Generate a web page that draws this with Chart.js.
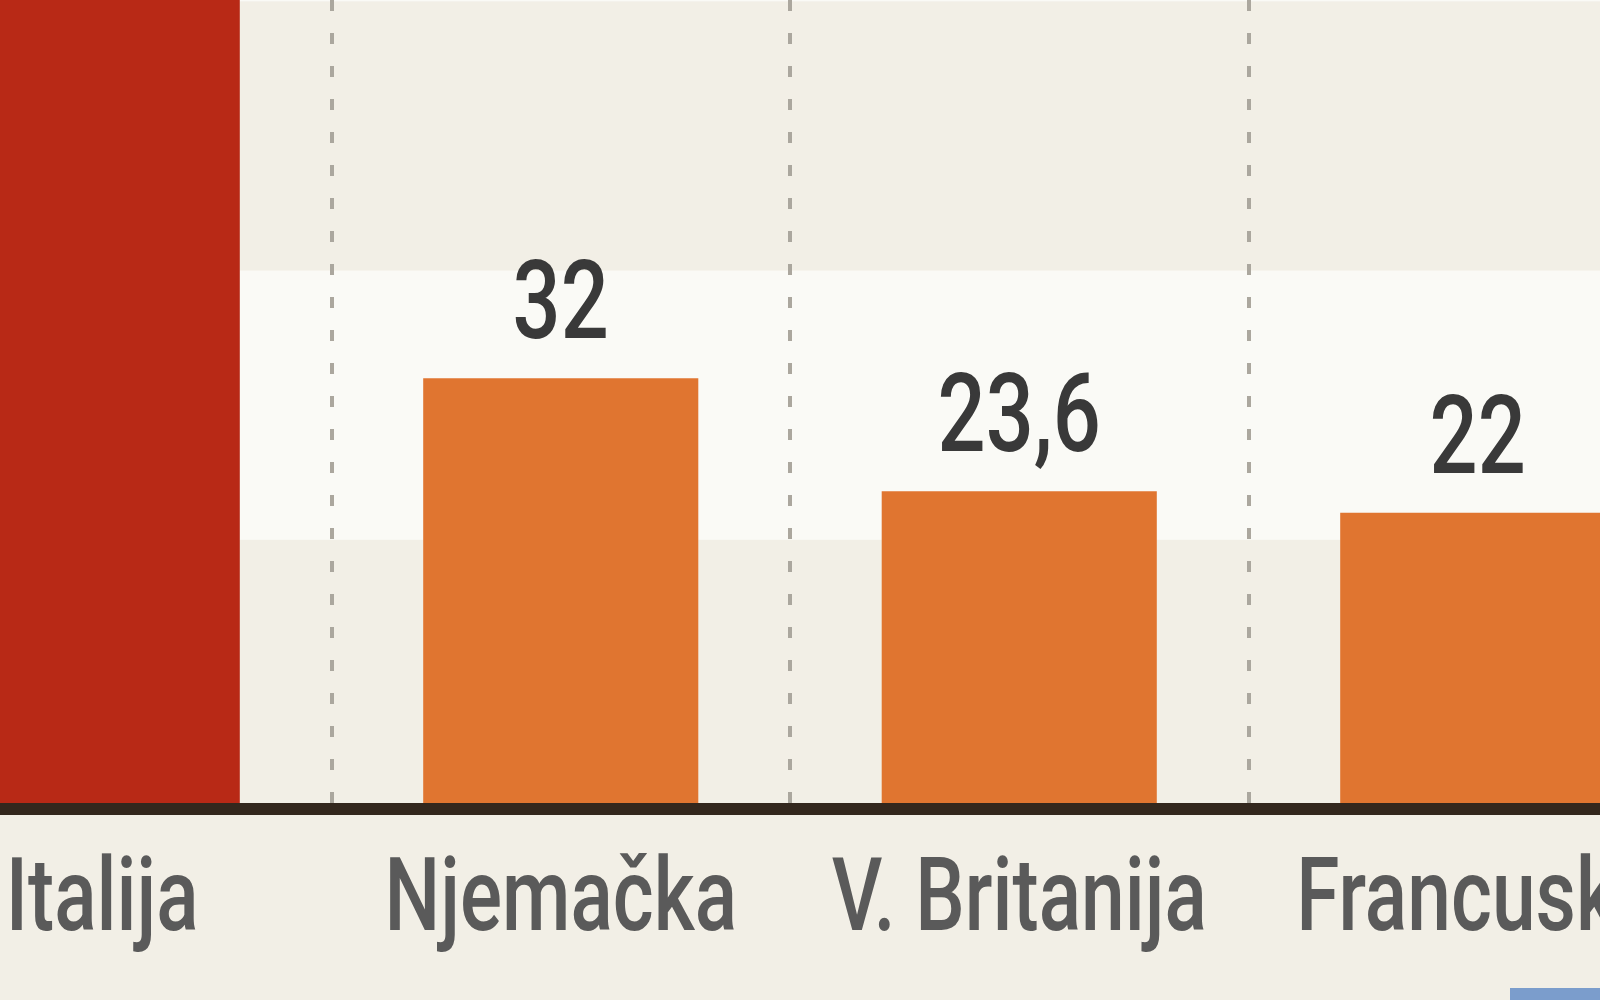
<!DOCTYPE html>
<html>
<head>
<meta charset="utf-8">
<script src="https://cdn.jsdelivr.net/npm/chart.js@4"></script>
<style>
  html, body { margin: 0; padding: 0; background: #f2efe6; overflow: hidden; }
  body { width: 1600px; height: 1000px; position: relative; }
  #wrap { position: absolute; left: -127px; top: 0; width: 1834px; height: 1000px; }
  #plava { position: absolute; left: 1510px; top: 988px; width: 90px; height: 12px; background: #7b9dcc; }
</style>
</head>
<body>
<div id="wrap"><canvas id="grafik"></canvas></div>
<div id="plava"></div>
<script>
const drzave = ["Italija", "Njemačka", "V. Britanija", "Francuska"];
// Italija je odsječena na vrhu slike, vrijednost je procjena
const vrijednosti = [68, 32, 23.6, 22];
const boje = ["#b82916", "#e07530", "#e07530", "#e07530"];
const trake = [[20, 40], [60, 80]];

const FONT = "Roboto, 'DejaVu Sans', sans-serif";
const SUZI = 0.77; // nema uskog fonta, pa se tekst stisne vodoravno

document.addEventListener("DOMContentLoaded", () => {
  nacrtajGrafik();
});

function uskiTekst(ctx, tekst, x, y) {
  ctx.save();
  ctx.translate(x, y);
  ctx.scale(SUZI, 1);
  ctx.fillText(tekst, 0, 0);
  ctx.restore();
}

const pozadina = {
  id: "pozadina",
  beforeDraw(chart) {
    const { ctx, chartArea, scales } = chart;
    ctx.save();
    ctx.fillStyle = "#f2efe6";
    ctx.fillRect(0, 0, chart.width, chart.height);
    ctx.beginPath();
    ctx.rect(chartArea.left, chartArea.top, chartArea.right - chartArea.left, chartArea.bottom - chartArea.top);
    ctx.clip();
    ctx.fillStyle = "#fafaf6";
    trake.forEach(([od, doo]) => {
      const y1 = scales.y.getPixelForValue(doo);
      const y2 = scales.y.getPixelForValue(od);
      ctx.fillRect(chartArea.left, y1, chartArea.right - chartArea.left, y2 - y1);
    });
    ctx.restore();
  }
};

const oznake = {
  id: "oznake",
  afterDatasetsDraw(chart) {
    const { ctx } = chart;
    const meta = chart.getDatasetMeta(0);
    ctx.save();
    ctx.font = "500 110px " + FONT;
    ctx.fillStyle = "#393939";
    ctx.textAlign = "center";
    ctx.textBaseline = "alphabetic";
    meta.data.forEach((bar, i) => {
      const y = bar.y - 40;
      if (y < 90) return;
      uskiTekst(ctx, String(vrijednosti[i]).replace(".", ","), bar.x, y);
    });
    ctx.restore();
  },
  afterDraw(chart) {
    const { ctx, chartArea, scales } = chart;
    ctx.save();
    ctx.font = "500 102px " + FONT;
    ctx.fillStyle = "#5a5a5a";
    ctx.textAlign = "center";
    ctx.textBaseline = "alphabetic";
    drzave.forEach((d, i) => {
      uskiTekst(ctx, d, scales.x.getPixelForTick(i), chartArea.bottom + 121);
    });
    ctx.restore();
  }
};

function nacrtajGrafik() {
  const ctx = document.getElementById("grafik").getContext("2d");

  new Chart(ctx, {
    type: "bar",
    data: {
      labels: drzave,
      datasets: [{
        data: vrijednosti,
        backgroundColor: boje,
        barPercentage: 0.6,
        categoryPercentage: 1
      }]
    },
    options: {
      responsive: true,
      maintainAspectRatio: false,
      animation: false,
      layout: { padding: { top: 0, left: 0, right: 0, bottom: 191 } },
      plugins: {
        legend: { display: false },
        tooltip: { enabled: false }
      },
      scales: {
        x: {
          grid: {
            offset: true,
            drawTicks: false,
            color: "#aba79e",
            lineWidth: 4
          },
          // dash ovdje vrijedi za isprekidane vertikalne linije
          border: { display: true, color: "#33271d", width: 12, z: 1, dash: [11, 22] },
          ticks: { display: false }
        },
        y: {
          display: false,
          min: 0,
          max: 60.1,
          grid: { display: false }
        }
      }
    },
    plugins: [pozadina, oznake]
  });
}
</script>
</body>
</html>
